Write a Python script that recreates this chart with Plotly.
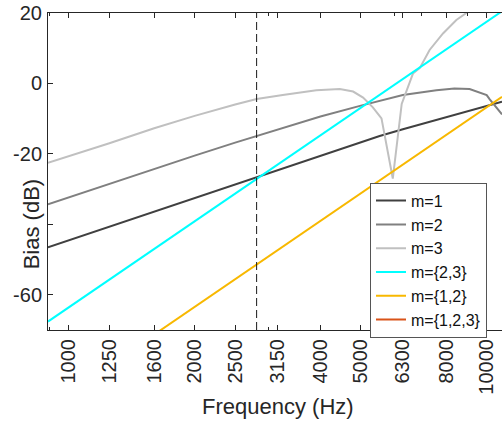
import math
import plotly.graph_objects as go

# ---- data ----
freq_m1 = [891, 1000, 1250, 1600, 2000, 2500, 2814, 3150, 4000, 5000, 5544, 6300, 8000, 10000, 10549, 10880]
bias_m1 = [-46.5, -44.5, -40.6, -36.3, -32.4, -28.5, -26.5, -24.6, -20.5, -16.7, -14.9, -13.0, -9.5, -6.3, -5.6, -5.2]

freq_m2 = [891, 1000, 1250, 1600, 2000, 2500, 2814, 3150, 4000, 5000, 5544, 6300, 7580, 8000, 8370, 9100, 10000, 10170, 10549, 10880]
bias_m2 = [-34.3, -32.3, -28.5, -24.3, -20.5, -16.8, -14.9, -13.1, -9.4, -6.3, -4.9, -3.3, -1.9, -1.6, -1.4, -1.6, -3.3, -4.5, -6.8, -8.8]

freq_m3 = [891, 1000, 1250, 1600, 2000, 2500, 2814, 3250, 3910, 4450, 4790, 5060, 5340, 5600, 5960, 6260, 6660, 6920, 7300, 7860, 8460, 8940, 9500]
bias_m3 = [-22.5, -20.6, -17.0, -12.7, -9.2, -6.0, -4.4, -3.3, -1.9, -1.6, -2.3, -4.0, -6.8, -9.9, -27.0, -5.8, 2.8, 4.4, 9.5, 14.2, 18.0, 20.0, 22.5]

freq_m23 = [891, 10880]
bias_m23 = [-67.6, 20.5]

freq_m12 = [1600, 10880]
bias_m12 = [-71.3, -3.8]

freq_m123 = [891, 10880]
bias_m123 = [-150.0, -90.0]

crossover_hz = 2814

tick_vals = [1000, 1250, 1600, 2000, 2500, 3150, 4000, 5000, 6300, 8000, 10000]
tick_text = [str(v) for v in tick_vals]
minor_vals = [900, 3000, 6000, 7000, 9000]
y_tick_vals = [-60, -40, -20, 0, 20]
y_tick_text = ["-60", "", "-20", "0", "20"]

series = [
    ("m=1", freq_m1, bias_m1, "#404040"),
    ("m=2", freq_m2, bias_m2, "#808080"),
    ("m=3", freq_m3, bias_m3, "#c0c0c0"),
    ("m={2,3}", freq_m23, bias_m23, "#00ffff"),
    ("m={1,2}", freq_m12, bias_m12, "#f8b800"),
    ("m={1,2,3}", freq_m123, bias_m123, "#d95319"),
]

FONT = "Liberation Sans, Arial, Helvetica, sans-serif"
AX = "#262626"

fig = go.Figure()
for name, fx, fy, col in series:
    fig.add_trace(go.Scatter(x=fx, y=fy, mode="lines", name=name,
                             line=dict(color=col, width=2)))

fig.add_shape(type="line", xref="x", yref="paper", x0=crossover_hz, x1=crossover_hz,
              y0=0, y1=1, line=dict(color="#1a1a1a", width=1, dash="8px,4px"))

fig.update_layout(
    width=502, height=421,
    margin=dict(l=48, r=0, t=13, b=91, autoexpand=False),
    paper_bgcolor="white", plot_bgcolor="white",
    font=dict(family=FONT, size=20, color=AX),
    showlegend=True,
    legend=dict(x=(370 - 48) / 454, y=(330 - 182.7) / 317, xanchor="left", yanchor="top",
                bgcolor="white", bordercolor="#555555", borderwidth=1,
                font=dict(family=FONT, size=16, color="#111111"),
                itemwidth=30, tracegroupgap=0),
)

fig.update_xaxes(
    type="log",
    range=[math.log10(891.25), math.log10(10880)],
    tickmode="array", tickvals=tick_vals, ticktext=tick_text, tickangle=-90,
    ticks="inside", ticklen=5, tickcolor=AX, tickwidth=1,
    minor=dict(tickmode="array", tickvals=minor_vals, ticks="inside", ticklen=3, tickcolor=AX),
    showline=True, linecolor=AX, linewidth=1, mirror="ticks",
    showgrid=False, zeroline=False, automargin=False,
    tickfont=dict(size=20, color=AX),
)
fig.update_yaxes(
    range=[-70, 20],
    tickmode="array", tickvals=y_tick_vals, ticktext=y_tick_text,
    ticks="inside", ticklen=5, tickcolor=AX, tickwidth=1,
    showline=True, linecolor=AX, linewidth=1, mirror=False,
    showgrid=False, zeroline=False, automargin=False,
    tickfont=dict(size=20, color=AX), ticklabelstandoff=1,
)

fig.add_annotation(text="Frequency (Hz)", xref="paper", yref="paper",
                   x=(278 - 48) / 454, y=(330 - 406.7) / 317, xanchor="center", yanchor="middle",
                   showarrow=False, font=dict(size=22, color=AX, family=FONT))
fig.add_annotation(text="Bias (dB)", xref="paper", yref="y",
                   x=(31 - 48) / 454, y=-40, xanchor="center", yanchor="middle", textangle=-90,
                   showarrow=False, font=dict(size=22, color=AX, family=FONT))

fig.write_html("out.html")
